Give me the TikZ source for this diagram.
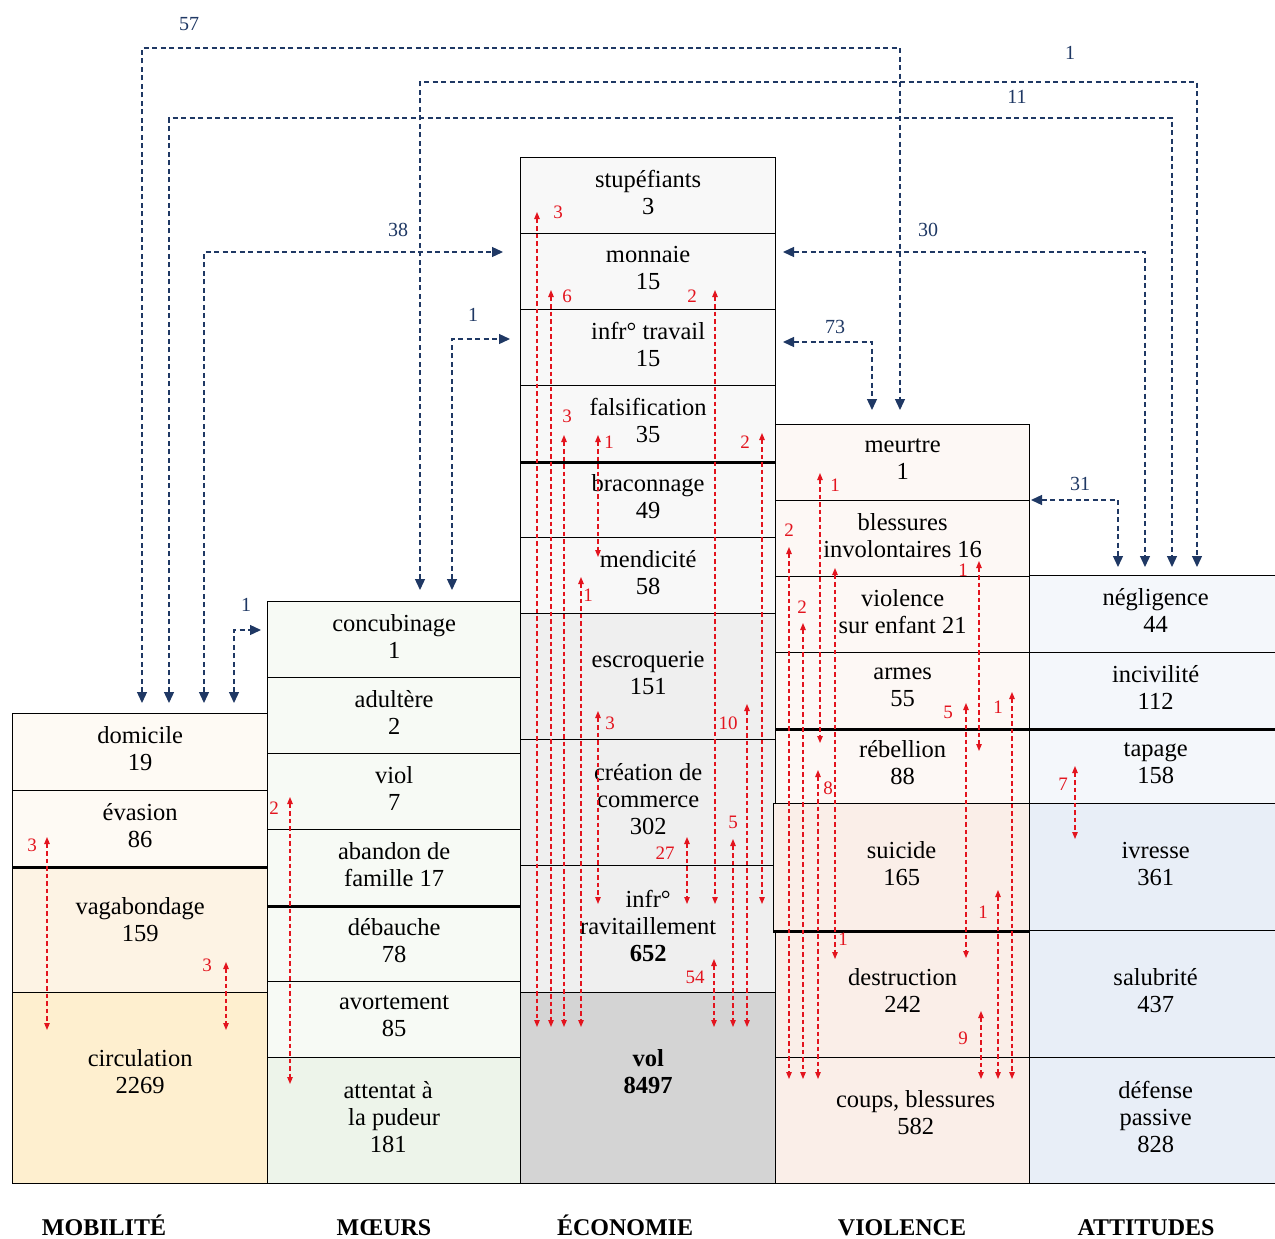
\documentclass[tikz,border=0pt]{standalone}
\usepackage{fontspec}
\setmainfont{Liberation Serif}
\usetikzlibrary{arrows.meta}
\definecolor{mobA}{HTML}{FEFAF4}
\definecolor{mobB}{HTML}{FDF3E4}
\definecolor{mobC}{HTML}{FEEFCF}
\definecolor{moeA}{HTML}{F7FAF5}
\definecolor{moeB}{HTML}{EDF4EA}
\definecolor{ecoA}{HTML}{F8F8F8}
\definecolor{ecoB}{HTML}{EFEFEF}
\definecolor{ecoC}{HTML}{D4D4D4}
\definecolor{vioA}{HTML}{FDF8F5}
\definecolor{vioB}{HTML}{FAEEE8}
\definecolor{attA}{HTML}{F4F7FB}
\definecolor{attB}{HTML}{E8EEF7}
\definecolor{bluel}{HTML}{1F3864}
\definecolor{redl}{HTML}{E3141E}
\newcommand\cellfont{\fontsize{24.5}{27}\selectfont}
\newcommand\rlink[7]{%
  \coordinate (#1a) at (#2,#3);
  \coordinate (#1b) at (#2,#4);
  \draw[redc] (#1a) -- (#1b);
  \node[rlab] (#1l) at (#6,#7) {#5};}
\begin{document}
\begin{tikzpicture}[x=1pt,y=-1pt,
 cell/.style={draw=black, line width=1.3pt, inner sep=0pt, align=center, anchor=north west, font=\cellfont, execute at end node={\rule[-7pt]{0pt}{7pt}}},
 bluec/.style={draw=bluel, line width=1.3pt, dash pattern=on 5pt off 3.5pt, >={Triangle[length=11pt,width=10pt]}, <->},
 redc/.style={draw=redl, line width=1.1pt, dash pattern=on 4.5pt off 3pt, >={Triangle[length=7pt,width=5.5pt]}, <->},
 blab/.style={text=bluel, font=\fontsize{20}{22}\selectfont, inner sep=0pt},
 rlab/.style={text=redl, font=\fontsize{19}{20}\selectfont, inner sep=0pt},
 colab/.style={font=\bfseries\fontsize{24}{26}\selectfont, anchor=base, inner sep=0pt},
 thickline/.style={line width=2.6pt}]
\useasboundingbox (0,0) rectangle (1275,1239);
\fill[white] (0,0) rectangle (1275,1239);

% MOBILITE
\node[cell, fill=mobA, minimum width=255pt, minimum height=77pt] (dom) at (12,713) {domicile\\19};
\node[cell, fill=mobA, minimum width=255pt, minimum height=76pt] (eva) at (12,790) {évasion\\86};
\node[cell, fill=mobB, minimum width=255pt, minimum height=126pt] (vag) at (12,866) {vagabondage\\159\\[-13pt]\phantom{0}};
\node[cell, fill=mobC, minimum width=255pt, minimum height=191pt] (circ) at (12,992) {circulation\\2269\\\phantom{0}};

% MOEURS
\node[cell, fill=moeA, minimum width=253pt, minimum height=76pt] (conc) at (267,601) {concubinage\\1};
\node[cell, fill=moeA, minimum width=253pt, minimum height=76pt] (adul) at (267,677) {adultère\\2};
\node[cell, fill=moeA, minimum width=253pt, minimum height=76pt] (viol) at (267,753) {viol\\7};
\node[cell, fill=moeA, minimum width=253pt, minimum height=76pt] (aband) at (267,829) {abandon de\\famille 17};
\node[cell, fill=moeA, minimum width=253pt, minimum height=76pt] (deb) at (267,905) {débauche\\78};
\node[cell, fill=moeA, minimum width=253pt, minimum height=76pt] (avort) at (267,981) {avortement\\85};
\node[cell, fill=moeB, minimum width=253pt, minimum height=126pt] (attent) at (267,1057) {attentat à\hspace*{12pt}\\la pudeur\hspace*{12pt}\\181\hspace*{12pt}};

% ECONOMIE
\node[cell, fill=ecoA, minimum width=255pt, minimum height=76pt] (stup) at (520,157) {stupéfiants\\3};
\node[cell, fill=ecoA, minimum width=255pt, minimum height=76pt] (monn) at (520,233) {monnaie\\15};
\node[cell, fill=ecoA, minimum width=255pt, minimum height=76pt] (trav) at (520,309) {infr° travail\\15};
\node[cell, fill=ecoA, minimum width=255pt, minimum height=76pt] (fals) at (520,385) {falsification\\35};
\node[cell, fill=ecoA, minimum width=255pt, minimum height=76pt] (brac) at (520,461) {braconnage\\49};
\node[cell, fill=ecoA, minimum width=255pt, minimum height=76pt] (mend) at (520,537) {mendicité\\58};
\node[cell, fill=ecoB, minimum width=255pt, minimum height=126pt] (escr) at (520,613) {escroquerie\\151};
\node[cell, fill=ecoB, minimum width=255pt, minimum height=126pt] (crea) at (520,739) {création de\\commerce\\302};
\node[cell, fill=ecoB, minimum width=255pt, minimum height=127pt] (ravit) at (520,865) {infr°\\ravitaillement\\\textbf{652}};
\node[cell, fill=ecoC, minimum width=255pt, minimum height=191pt] (vol) at (520,992) {\textbf{vol}\\\textbf{8497}\\\phantom{0}};

% VIOLENCE
\node[cell, fill=vioA, minimum width=254pt, minimum height=76pt] (meu) at (775,424) {meurtre\\1};
\node[cell, fill=vioA, minimum width=254pt, minimum height=76pt] (bles) at (775,500) {blessures\\involontaires 16};
\node[cell, fill=vioA, minimum width=254pt, minimum height=76pt] (vie) at (775,576) {violence\\sur enfant 21};
\node[cell, fill=vioA, minimum width=254pt, minimum height=76pt] (armes) at (775,652) {armes\\55};
\node[cell, fill=vioA, minimum width=254pt, minimum height=75pt] (reb) at (775,728) {rébellion\\88};
\node[cell, fill=vioB, minimum width=256pt, minimum height=127pt] (sui) at (773,803) {suicide\\165};
\node[cell, fill=vioB, minimum width=254pt, minimum height=127pt] (dest) at (775,930) {destruction\\242};
\node[cell, fill=vioB, minimum width=254pt, minimum height=126pt] (coups) at (775,1057) {\hspace*{26pt}coups, blessures\\\hspace*{26pt}582\\[-17pt]\phantom{0}};

% ATTITUDES
\node[cell, fill=attA, minimum width=252pt, minimum height=77pt] (neg) at (1029,575) {négligence\\44};
\node[cell, fill=attA, minimum width=252pt, minimum height=76pt] (inc) at (1029,652) {incivilité\\112};
\node[cell, fill=attA, minimum width=252pt, minimum height=75pt] (tap) at (1029,728) {tapage\\158};
\node[cell, fill=attB, minimum width=252pt, minimum height=127pt] (ivr) at (1029,803) {ivresse\\361};
\node[cell, fill=attB, minimum width=252pt, minimum height=127pt] (sal) at (1029,930) {salubrité\\437};
\node[cell, fill=attB, minimum width=252pt, minimum height=126pt] (def) at (1029,1057) {défense\\passive\\828};

% thicker separators
\draw[thickline] (eva.south west) -- (eva.south east);
\draw[thickline] (aband.south west) -- (aband.south east);
\draw[thickline] (fals.south west) -- (fals.south east);
\draw[thickline] (armes.south west) -- (armes.south east);
\draw[thickline] (inc.south west) -- (inc.south east);
\draw[thickline] (sui.south west) -- (sui.south east);

% BLUE connectors
\coordinate (b57a) at (142,703);  \coordinate (b57m) at (900,48);  \coordinate (b57b) at (900,410);
\draw[bluec] (b57a) |- (b57m) -- (b57b);
\node[blab] (l57) at (189,24) {57};
\coordinate (b1ta) at (420,590);  \coordinate (b1tm) at (1197,82); \coordinate (b1tb) at (1197,567);
\draw[bluec] (b1ta) |- (b1tm) -- (b1tb);
\node[blab] (l1t) at (1070,53) {1};
\coordinate (b11a) at (169,703);  \coordinate (b11m) at (1172,118); \coordinate (b11b) at (1172,567);
\draw[bluec] (b11a) |- (b11m) -- (b11b);
\node[blab] (l11) at (1017,97) {11};
\coordinate (b38a) at (204,703);  \coordinate (b38b) at (503,252);
\draw[bluec] (b38a) |- (b38b);
\node[blab] (l38) at (398,230) {38};
\coordinate (b1ma) at (452,590);  \coordinate (b1mb) at (510,339);
\draw[bluec] (b1ma) |- (b1mb);
\node[blab] (l1m) at (473,315) {1};
\coordinate (b30a) at (783,252);  \coordinate (b30b) at (1145,567);
\draw[bluec] (b30a) -| (b30b);
\node[blab] (l30) at (928,230) {30};
\coordinate (b73a) at (783,342);  \coordinate (b73b) at (872,410);
\draw[bluec] (b73a) -| (b73b);
\node[blab] (l73) at (835,327) {73};
\coordinate (b31a) at (1031,500); \coordinate (b31b) at (1118,567);
\draw[bluec] (b31a) -| (b31b);
\node[blab] (l31) at (1080,484) {31};
\coordinate (b1la) at (234,703);  \coordinate (b1lb) at (261,630);
\draw[bluec] (b1la) |- (b1lb);
\node[blab] (l1l) at (246,605) {1};

% RED connectors
% mobilite
\rlink{r1}{47}{837}{1030}{3}{32}{845}
\rlink{r2}{226}{962}{1030}{3}{207}{965}
% moeurs
\rlink{r3}{290}{797}{1084}{2}{274}{808}
% economie
\rlink{r4}{537}{212}{1027}{3}{558}{212}
\rlink{r5}{551}{290}{1027}{6}{567}{296}
\rlink{r6}{564}{435}{1027}{3}{567}{416}
\rlink{r7}{581}{577}{1027}{1}{588}{595}
\rlink{r8}{598}{435}{557}{1}{609}{442}
\rlink{r9}{598}{711}{904}{3}{610}{723}
\rlink{r10}{687}{837}{904}{27}{665}{853}
\rlink{r11}{715}{290}{904}{2}{692}{296}
\rlink{r12}{714}{959}{1027}{54}{695}{977}
\rlink{r13}{733}{839}{1027}{5}{733}{822}
\rlink{r14}{747}{704}{1027}{10}{728}{723}
\rlink{r15}{762}{433}{904}{2}{745}{442}
% violence
\rlink{r16}{820}{473}{743}{1}{835}{485}
\rlink{r17}{789}{547}{1079}{2}{789}{530}
\rlink{r18}{803}{623}{1079}{2}{802}{607}
\rlink{r19}{835}{568}{959}{1}{843}{939}
\rlink{r20}{979}{561}{751}{1}{963}{570}
\rlink{r21}{966}{703}{958}{5}{948}{712}
\rlink{r22}{1012}{692}{1079}{1}{998}{707}
\rlink{r23}{818}{770}{1079}{8}{828}{788}
\rlink{r24}{998}{890}{1079}{1}{983}{912}
\rlink{r25}{981}{1011}{1079}{9}{963}{1038}
% attitudes
\rlink{r26}{1075}{766}{839}{7}{1063}{784}

% column labels
\node[colab] (cmob) at (104,1235) {MOBILITÉ};
\node[colab] (cmoe) at (384,1235) {MŒURS};
\node[colab] (ceco) at (625,1235) {ÉCONOMIE};
\node[colab] (cvio) at (902,1235) {VIOLENCE};
\node[colab] (catt) at (1146,1235) {ATTITUDES};
\end{tikzpicture}
\end{document}
